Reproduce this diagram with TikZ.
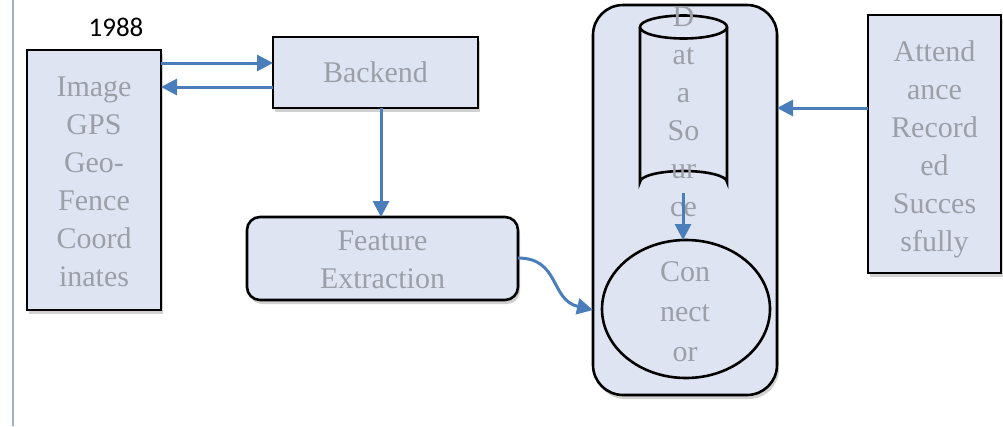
\documentclass[tikz,border=0pt]{standalone}
\usepackage{fontspec}
\setmainfont{Liberation Serif}
\newfontfamily\numfont{Carlito}
\usetikzlibrary{arrows.meta,shadows}
\definecolor{boxfill}{HTML}{DEE4F1}
\definecolor{boxtext}{HTML}{9C9FA8}
\definecolor{flow}{HTML}{4A7EBB}
\definecolor{rule}{HTML}{9DB0C9}
\tikzset{
  shade/.style={drop shadow={shadow xshift=2pt,shadow yshift=-4pt,opacity=0.18,fill=black}},
  block/.style={draw=black,line width=2.6pt,fill=boxfill,shade},
  outline/.style={draw=black,line width=2.6pt,fill=boxfill},
  boxlabel/.style={text=boxtext,align=center,font=\rmfamily\fontsize{30}{38}\selectfont,inner sep=0pt},
  flowline/.style={draw=flow,line width=3pt,-{Triangle[length=16pt,width=16pt]}},
}
\begin{document}
\begin{tikzpicture}[x=1pt,y=-1pt]
\useasboundingbox (0,0) rectangle (1003,426);

% margin rule
\draw[rule,line width=2.2pt] (13,0) -- (13,426);
\node[font=\numfont\fontsize{27}{30}\selectfont,inner sep=0pt] (year) at (116,27) {1988};

% source box
\draw[block] (27,50) rectangle (161,310);
\node[boxlabel] (gps) at (94,182) {Image\\GPS\\Geo-\\Fence\\Coord\\inates};
\coordinate (gpsA) at (161,63);
\coordinate (gpsB) at (161,87);

% backend
\draw[block] (273,37) rectangle (478,108);
\node[boxlabel] (backend) at (375.5,72.5) {Backend};
\coordinate (beA) at (273,63);
\coordinate (beB) at (273,87);
\coordinate (beDown) at (381,108);

% feature extraction
\draw[block,rounded corners=13pt] (247,217) rectangle (518,300);
\node[boxlabel] (feat) at (382.5,260) {Feature\\Extraction};
\coordinate (featTop) at (381,217);
\coordinate (featOut) at (518,258);

% container with data source and connector
\draw[block,rounded corners=30pt] (593,5) rectangle (777,395);
\coordinate (boxIn) at (777,108);
\coordinate (boxLeft) at (593,310);

% cylinder
\draw[outline]
  (640,27) -- (640,182) arc[start angle=180,end angle=360,x radius=43.5,y radius=11] -- (727,27);
\draw[outline] (683.5,27) ellipse[x radius=43.5,y radius=11.5];
\node[boxlabel] (ds) at (683.5,112) {D\\at\\a\\So\\ur\\ce};
\coordinate (dsBot) at (683,193);

% connector ellipse
\draw[outline] (686,309) ellipse[x radius=84,y radius=69];
\node[boxlabel,font=\rmfamily\fontsize{30}{40}\selectfont] (conn) at (685,312) {Con\\nect\\or};
\coordinate (connTop) at (683,240);

% attendance box
\draw[block] (868,15) rectangle (1001,273);
\node[boxlabel] (att) at (934.5,149) {Attend\\ance\\Record\\ed\\Succes\\sfully};
\coordinate (attOut) at (868,108);

% connectors
\draw[flowline] (gpsA) -- (beA);
\draw[flowline] (beB) -- (gpsB);
\draw[flowline] (beDown) -- (featTop);
\draw[flowline] (featOut) .. controls (560,258) and (550,300) .. (boxLeft);
\draw[flowline] (dsBot) -- (connTop);
\draw[flowline] (attOut) -- (boxIn);
\end{tikzpicture}
\end{document}
